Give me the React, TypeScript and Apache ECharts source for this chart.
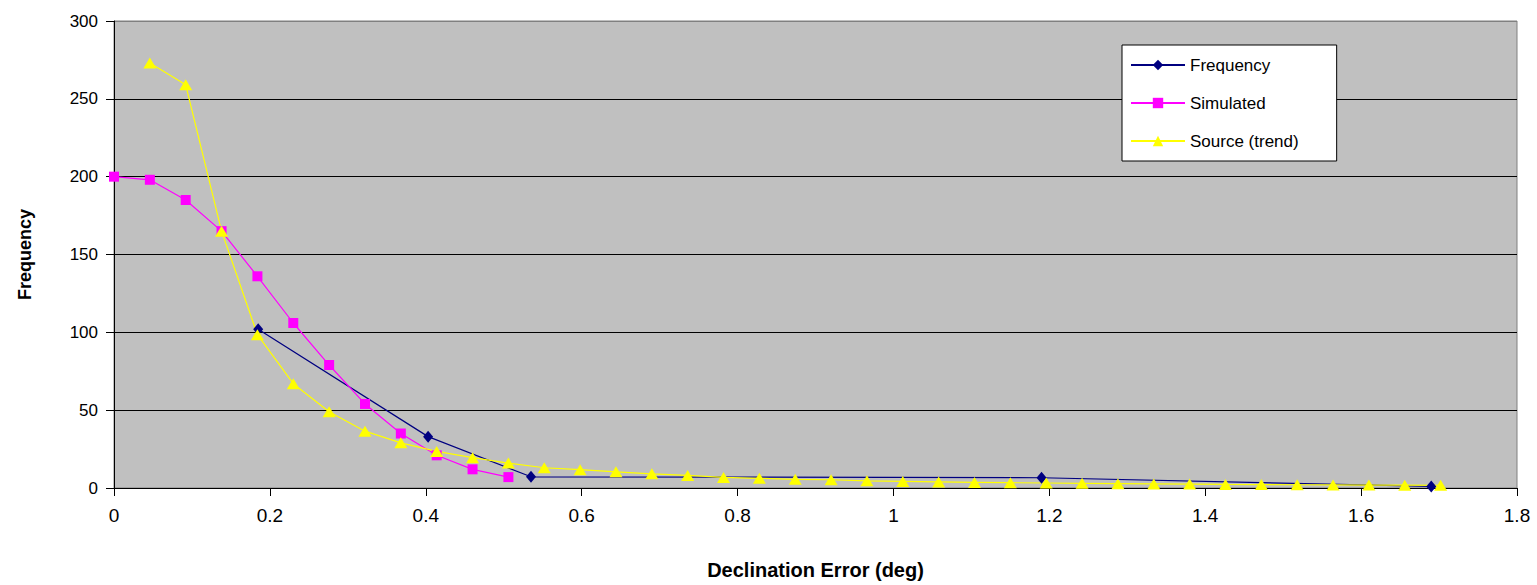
import React, { useEffect, useRef } from "react";
import * as echarts from "echarts";

const yTicks = [0, 50, 100, 150, 200, 250, 300];
const xTicks = [0, 0.2, 0.4, 0.6, 0.8, 1, 1.2, 1.4, 1.6, 1.8];

const freqX = [0.185, 0.403, 0.535, 1.19, 1.69];
const freqY = [102, 33, 7.2, 6.6, 1];

const simX = [0, 0.046, 0.092, 0.138, 0.184, 0.23, 0.276, 0.322, 0.368, 0.414, 0.46, 0.506];
const simY = [200, 198, 185, 165, 136, 106, 79, 54, 35, 21, 12, 7];

const srcX = [
  0.046, 0.092, 0.138, 0.184, 0.23, 0.276, 0.322, 0.368, 0.414, 0.46, 0.506, 0.552,
  0.598, 0.644, 0.69, 0.736, 0.782, 0.828, 0.874, 0.92, 0.966, 1.012, 1.058, 1.104,
  1.15, 1.196, 1.242, 1.288, 1.334, 1.38, 1.426, 1.472, 1.518, 1.564, 1.61, 1.656, 1.702,
];
const srcY = [
  273, 259, 165, 98.5, 67, 49, 36.5, 29, 23.5, 19.5, 16, 13, 11.8, 10.4, 9.1, 8.1, 6.8,
  6.2, 5.6, 5.3, 4.6, 4.2, 3.9, 3.6, 3.4, 3.2, 3.0, 2.8, 2.6, 2.5, 2.3, 2.2, 2.1, 2.0,
  1.9, 1.8, 1.7,
];

const pairs = (xs: number[], ys: number[]) => xs.map((x, i) => [x, ys[i]]);

export default function App() {
  const ref = useRef<HTMLDivElement>(null);
  useEffect(() => {
    if (!ref.current) return;
    const chart = echarts.init(ref.current, null, { renderer: "svg" });
    const font = "Liberation Sans, Arial, sans-serif";
    chart.setOption({
      animation: false,
      backgroundColor: "#ffffff",
      grid: {
        left: 114,
        right: 20,
        top: 21,
        bottom: 93,
        show: true,
        backgroundColor: "#C0C0C0",
        borderColor: "#808080",
        borderWidth: 1,
      },
      legend: {
        orient: "vertical",
        left: 1122,
        top: 45,
        backgroundColor: "#ffffff",
        borderColor: "#000000",
        borderWidth: 1,
        padding: [10, 38, 10, 8],
        itemWidth: 54,
        itemHeight: 13,
        itemGap: 18,
        textStyle: { fontFamily: font, fontSize: 17, color: "#000", lineHeight: 20 },
        data: ["Frequency", "Simulated", "Source (trend)"],
      },
      xAxis: {
        type: "value",
        min: 0,
        max: xTicks[xTicks.length - 1],
        interval: 0.2,
        name: "Declination Error (deg)",
        nameLocation: "middle",
        nameGap: 72,
        nameTextStyle: {
          fontFamily: "Liberation Sans Narrow, Arial Narrow, sans-serif",
          fontWeight: "bold",
          fontSize: 20,
          color: "#000",
        },
        axisLine: { show: true, onZero: false, lineStyle: { color: "#000", width: 1 } },
        axisTick: { show: true, length: 8, inside: false, lineStyle: { color: "#000" } },
        axisLabel: {
          fontFamily: "Liberation Sans Narrow, Arial Narrow, sans-serif",
          fontSize: 19,
          color: "#000",
          margin: 18,
        },
        splitLine: { show: false },
      },
      yAxis: {
        type: "value",
        min: 0,
        max: yTicks[yTicks.length - 1],
        interval: 50,
        name: "Frequency",
        nameLocation: "middle",
        nameGap: 80,
        nameTextStyle: { fontFamily: font, fontWeight: "bold", fontSize: 18, color: "#000" },
        axisLine: { show: true, lineStyle: { color: "#000", width: 1 } },
        axisTick: { show: true, length: 8, lineStyle: { color: "#000" } },
        axisLabel: { fontFamily: font, fontSize: 17, color: "#000", margin: 16 },
        splitLine: {
          show: true,
          lineStyle: {
            color: ["#000", "#000", "#000", "#000", "#000", "#000", "#808080"],
            width: 1,
          },
        },
      },
      series: [
        {
          name: "Frequency",
          type: "line",
          data: pairs(freqX, freqY),
          symbol: "diamond",
          symbolSize: [10, 12],
          itemStyle: { color: "#000080" },
          lineStyle: { color: "#000080", width: 1.2 },
        },
        {
          name: "Simulated",
          type: "line",
          data: pairs(simX, simY),
          symbol: "rect",
          symbolSize: 10,
          itemStyle: { color: "#FF00FF" },
          lineStyle: { color: "#FF00FF", width: 1.2 },
        },
        {
          name: "Source (trend)",
          type: "line",
          data: pairs(srcX, srcY),
          symbol: "triangle",
          symbolSize: [13, 11],
          itemStyle: { color: "#FFFF00" },
          lineStyle: { color: "#FFFF00", width: 1.2 },
        },
      ],
    });
    return () => chart.dispose();
  }, []);
  return (
    <div
      ref={ref}
      style={{ position: "fixed", left: 0, top: 0, width: 1537, height: 585 }}
    />
  );
}
